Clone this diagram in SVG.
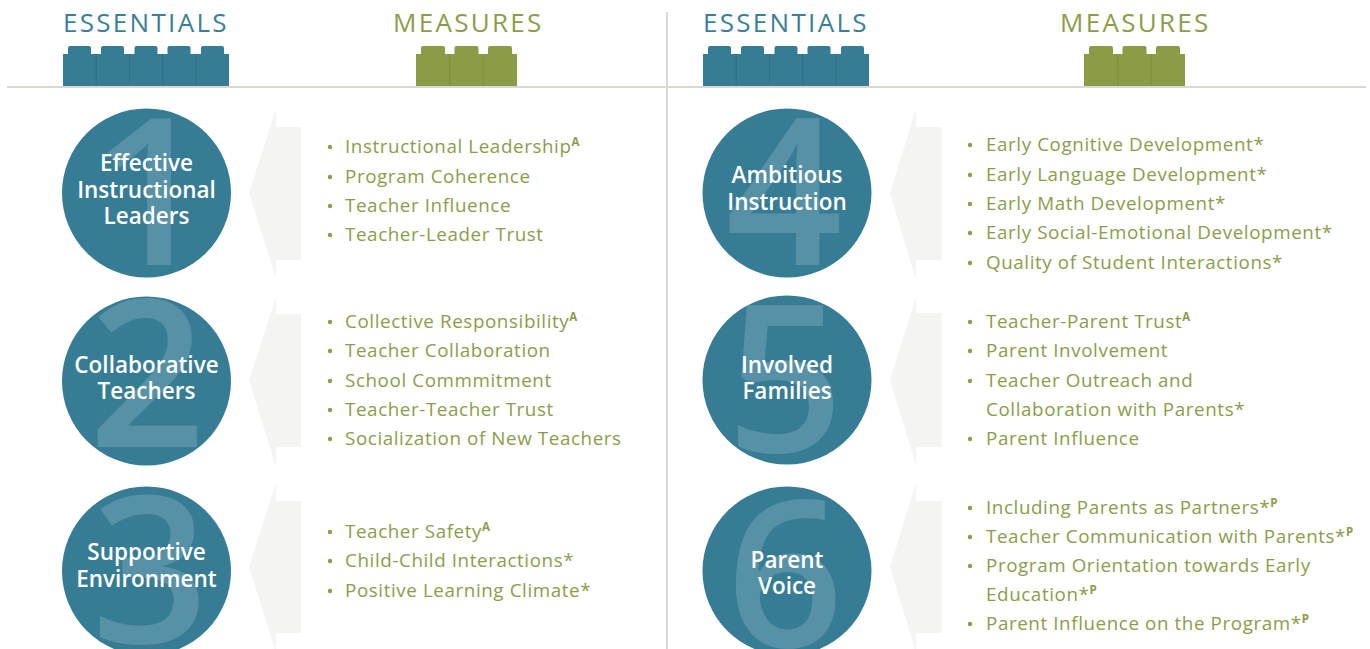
<svg xmlns="http://www.w3.org/2000/svg" width="1370" height="649" viewBox="0 0 1370 649">
<style>
.hdr{font-family:"Open Sans","Liberation Sans",sans-serif;font-size:26px;font-weight:400;letter-spacing:2.3px}
.ess{fill:#3a7f98}
.mea{fill:#8b9d48}
.lbl{font-family:"Open Sans","Liberation Sans",sans-serif;font-size:22.5px;font-weight:600;fill:#ffffff;text-anchor:middle}
.num{font-family:"Open Sans","Liberation Sans",sans-serif;font-size:205px;font-weight:600;fill:#ffffff;fill-opacity:0.16;text-anchor:middle}
.item{font-family:"Open Sans","Liberation Sans",sans-serif;font-size:18.8px;fill:#8b9d48;letter-spacing:0.6px}
.sup{font-size:11.5px;font-weight:700;letter-spacing:0}
.circ{fill:#377c95}
.arrow{fill:#f4f4f2}
.bul{fill:#8b9d48}
.rule{stroke:#d9d9d3;stroke-width:2;fill:none}
</style>
<defs>
<clipPath id="c1"><circle cx="146.5" cy="193" r="84.5"/></clipPath>
<clipPath id="c2"><circle cx="146.5" cy="381" r="84.5"/></clipPath>
<clipPath id="c3"><circle cx="146.5" cy="571" r="84.5"/></clipPath>
<clipPath id="c4"><circle cx="787" cy="193" r="84.5"/></clipPath>
<clipPath id="c5"><circle cx="787" cy="380" r="84.5"/></clipPath>
<clipPath id="c6"><circle cx="787" cy="571" r="84.5"/></clipPath>
</defs>
<rect width="1370" height="649" fill="#ffffff"/>

<g id="header">
<text class="hdr ess" x="63" y="32">ESSENTIALS</text>
<text class="hdr mea" x="393" y="32">MEASURES</text>
<text class="hdr ess" x="703" y="32">ESSENTIALS</text>
<text class="hdr mea" x="1060" y="32">MEASURES</text>
<g fill="#377c95">
<rect x="63" y="54" width="166" height="32"/>
<rect x="68" y="46" width="23" height="12" rx="2"/>
<rect x="101" y="46" width="23" height="12" rx="2"/>
<rect x="134.5" y="46" width="23" height="12" rx="2"/>
<rect x="167.5" y="46" width="23" height="12" rx="2"/>
<rect x="201" y="46" width="23" height="12" rx="2"/>
<rect x="703" y="54" width="166" height="32"/>
<rect x="708" y="46" width="23" height="12" rx="2"/>
<rect x="741" y="46" width="23" height="12" rx="2"/>
<rect x="774.5" y="46" width="23" height="12" rx="2"/>
<rect x="807.5" y="46" width="23" height="12" rx="2"/>
<rect x="841" y="46" width="23" height="12" rx="2"/>
</g>
<g stroke="#2f7089" stroke-width="1">
<line x1="96.2" y1="54" x2="96.2" y2="86"/><line x1="129.4" y1="54" x2="129.4" y2="86"/><line x1="162.6" y1="54" x2="162.6" y2="86"/><line x1="195.8" y1="54" x2="195.8" y2="86"/>
<line x1="736.2" y1="54" x2="736.2" y2="86"/><line x1="769.4" y1="54" x2="769.4" y2="86"/><line x1="802.6" y1="54" x2="802.6" y2="86"/><line x1="835.8" y1="54" x2="835.8" y2="86"/>
</g>
<g fill="#8a9c45">
<rect x="416" y="54" width="101" height="32"/>
<rect x="421" y="46" width="24" height="12" rx="2"/>
<rect x="454.5" y="46" width="24" height="12" rx="2"/>
<rect x="488" y="46" width="24" height="12" rx="2"/>
<rect x="1084" y="54" width="101" height="32"/>
<rect x="1089" y="46" width="24" height="12" rx="2"/>
<rect x="1122.5" y="46" width="24" height="12" rx="2"/>
<rect x="1156" y="46" width="24" height="12" rx="2"/>
</g>
<g stroke="#7f913d" stroke-width="1">
<line x1="449.7" y1="54" x2="449.7" y2="86"/><line x1="483.3" y1="54" x2="483.3" y2="86"/>
<line x1="1117.7" y1="54" x2="1117.7" y2="86"/><line x1="1151.3" y1="54" x2="1151.3" y2="86"/>
</g>
<line class="rule" x1="7" y1="87" x2="1366" y2="87"/>
<line class="rule" x1="667" y1="12" x2="667" y2="649" stroke-width="1.6"/>
</g>

<g id="connectors">
<polygon class="arrow" points="301,127 276,127 276,109 249,193 276,278 276,260 301,260"/>
<polygon class="arrow" points="301,314 276,314 276,297 249,380 276,467 276,447 301,447"/>
<polygon class="arrow" points="301,501 276,501 276,483 249,567 276,652 276,633 301,633"/>
<polygon class="arrow" points="942,127 916,127 916,109 890,193 916,280 916,260 942,260"/>
<polygon class="arrow" points="942,313 916,313 916,297 890,380 916,465 916,447 942,447"/>
<polygon class="arrow" points="942,501 916,501 916,483 890,567 916,652 916,633 942,633"/>
</g>

<g id="essential-1">
<circle class="circ" cx="146.5" cy="193" r="84.5"/>
<text class="num" x="151" y="265" clip-path="url(#c1)">1</text>
<text class="lbl" x="146.5" y="171">Effective</text>
<text class="lbl" x="146.5" y="198">Instructional</text>
<text class="lbl" x="146.5" y="224">Leaders</text>
</g>
<g id="essential-2">
<circle class="circ" cx="146.5" cy="381" r="84.5"/>
<text class="num" x="147" y="447" clip-path="url(#c2)">2</text>
<text class="lbl" x="146.5" y="373">Collaborative</text>
<text class="lbl" x="146.5" y="399">Teachers</text>
</g>
<g id="essential-3">
<circle class="circ" cx="146.5" cy="571" r="84.5"/>
<text class="num" x="150" y="643" clip-path="url(#c3)">3</text>
<text class="lbl" x="146.5" y="560">Supportive</text>
<text class="lbl" x="146.5" y="587">Environment</text>
</g>
<g id="essential-4">
<circle class="circ" cx="787" cy="193" r="84.5"/>
<text class="num" x="784" y="265" clip-path="url(#c4)">4</text>
<text class="lbl" x="787" y="183">Ambitious</text>
<text class="lbl" x="787" y="210">Instruction</text>
</g>
<g id="essential-5">
<circle class="circ" cx="787" cy="380" r="84.5"/>
<text class="num" x="785" y="452" clip-path="url(#c5)">5</text>
<text class="lbl" x="787" y="373">Involved</text>
<text class="lbl" x="787" y="399">Families</text>
</g>
<g id="essential-6">
<circle class="circ" cx="787" cy="571" r="84.5"/>
<text class="num" x="785" y="647" clip-path="url(#c6)">6</text>
<text class="lbl" x="787" y="568">Parent</text>
<text class="lbl" x="787" y="594">Voice</text>
</g>

<g id="measures-1">
<circle class="bul" cx="330" cy="147" r="2.2"/><text class="item" x="345" y="153">Instructional Leadership<tspan class="sup" dy="-7">A</tspan></text>
<circle class="bul" cx="330" cy="177" r="2.2"/><text class="item" x="345" y="183">Program Coherence</text>
<circle class="bul" cx="330" cy="206" r="2.2"/><text class="item" x="345" y="212">Teacher Influence</text>
<circle class="bul" cx="330" cy="235" r="2.2"/><text class="item" x="345" y="241">Teacher-Leader Trust</text>
</g>
<g id="measures-2">
<circle class="bul" cx="330" cy="322" r="2.2"/><text class="item" x="345" y="328">Collective Responsibility<tspan class="sup" dy="-7">A</tspan></text>
<circle class="bul" cx="330" cy="351" r="2.2"/><text class="item" x="345" y="357">Teacher Collaboration</text>
<circle class="bul" cx="330" cy="381" r="2.2"/><text class="item" x="345" y="387">School Commmitment</text>
<circle class="bul" cx="330" cy="410" r="2.2"/><text class="item" x="345" y="416">Teacher-Teacher Trust</text>
<circle class="bul" cx="330" cy="439" r="2.2"/><text class="item" x="345" y="445">Socialization of New Teachers</text>
</g>
<g id="measures-3">
<circle class="bul" cx="330" cy="532" r="2.2"/><text class="item" x="345" y="538">Teacher Safety<tspan class="sup" dy="-7">A</tspan></text>
<circle class="bul" cx="330" cy="561" r="2.2"/><text class="item" x="345" y="567">Child-Child Interactions*</text>
<circle class="bul" cx="330" cy="591" r="2.2"/><text class="item" x="345" y="597">Positive Learning Climate*</text>
</g>
<g id="measures-4">
<circle class="bul" cx="970" cy="145" r="2.2"/><text class="item" x="986" y="151">Early Cognitive Development*</text>
<circle class="bul" cx="970" cy="175" r="2.2"/><text class="item" x="986" y="181">Early Language Development*</text>
<circle class="bul" cx="970" cy="204" r="2.2"/><text class="item" x="986" y="210">Early Math Development*</text>
<circle class="bul" cx="970" cy="233" r="2.2"/><text class="item" x="986" y="239">Early Social-Emotional Development*</text>
<circle class="bul" cx="970" cy="263" r="2.2"/><text class="item" x="986" y="269">Quality of Student Interactions*</text>
</g>
<g id="measures-5">
<circle class="bul" cx="970" cy="322" r="2.2"/><text class="item" x="986" y="328">Teacher-Parent Trust<tspan class="sup" dy="-7">A</tspan></text>
<circle class="bul" cx="970" cy="351" r="2.2"/><text class="item" x="986" y="357">Parent Involvement</text>
<circle class="bul" cx="970" cy="381" r="2.2"/><text class="item" x="986" y="387">Teacher Outreach and</text>
<text class="item" x="986" y="416">Collaboration with Parents*</text>
<circle class="bul" cx="970" cy="439" r="2.2"/><text class="item" x="986" y="445">Parent Influence</text>
</g>
<g id="measures-6">
<circle class="bul" cx="970" cy="508" r="2.2"/><text class="item" x="986" y="514">Including Parents as Partners*<tspan class="sup" dy="-7">P</tspan></text>
<circle class="bul" cx="970" cy="537" r="2.2"/><text class="item" x="986" y="543">Teacher Communication with Parents*<tspan class="sup" dy="-7">P</tspan></text>
<circle class="bul" cx="970" cy="566" r="2.2"/><text class="item" x="986" y="572">Program Orientation towards Early</text>
<text class="item" x="986" y="601">Education*<tspan class="sup" dy="-7">P</tspan></text>
<circle class="bul" cx="970" cy="624" r="2.2"/><text class="item" x="986" y="630">Parent Influence on the Program*<tspan class="sup" dy="-7">P</tspan></text>
</g>
</svg>
